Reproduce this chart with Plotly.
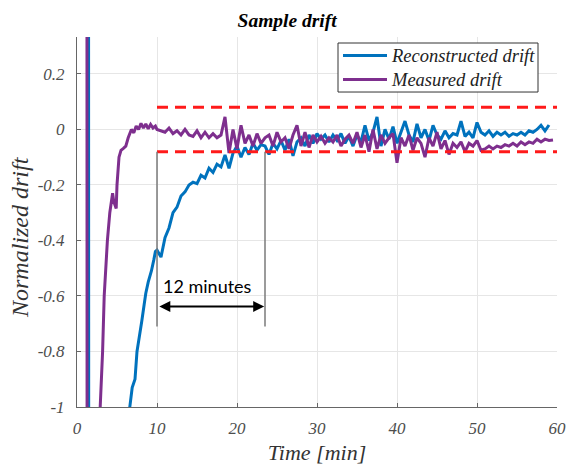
import plotly.graph_objects as go

# ---------------- data ----------------
recon_time_head = [1.4, 1.5, 6.4, 6.6, 6.9, 7.1, 7.25, 7.5, 7.8, 8.1, 8.4, 8.6, 8.9, 9.3, 9.6, 9.8]
recon_drift_head = [5.0, -5.0, -1.3, -1.0, -0.93, -0.91, -0.9, -0.8, -0.75, -0.69, -0.63, -0.59, -0.55, -0.51, -0.47, -0.44]

meas_time_head = [1.2, 1.3, 2.8, 2.9, 3.2, 3.4, 3.8, 4.1, 4.45, 4.6, 4.9, 5.0, 5.25, 5.5, 5.8, 6.1,
                  6.4, 6.8, 7.1, 7.4, 7.7, 8.0, 8.3, 8.6, 8.9, 9.2, 9.5, 9.8]
meas_drift_head = [5.0, -5.0, -1.3, -1.0, -0.8, -0.6, -0.4, -0.3, -0.23, -0.26, -0.285, -0.2, -0.1, -0.075,
                   -0.068, -0.06, -0.03, 0.0, -0.012, 0.012, 0.0, 0.022, 0.005, 0.02, 0.002, 0.018, 0.005, 0.012]

time_tail = [10.0, 10.5, 11.0, 11.5, 12.0, 12.5, 13.0, 13.5, 14.0, 14.5,
             15.0, 15.5, 16.0, 16.5, 17.0, 17.5, 18.0, 18.5, 19.0, 19.5,
             20.0, 20.5, 21.0, 21.5, 22.0, 22.5, 23.0, 23.5, 24.0, 24.5,
             25.0, 25.5, 26.0, 26.5, 27.0, 27.5, 28.0, 28.5, 29.0, 29.5,
             30.0, 30.5, 31.0, 31.5, 32.0, 32.5, 33.0, 33.5, 34.0, 34.5,
             35.0, 35.5, 36.0, 36.5, 37.0, 37.5, 38.0, 38.5, 39.0, 39.5,
             40.0, 40.5, 41.0, 41.5, 42.0, 42.5, 43.0, 43.5, 44.0, 44.5,
             45.0, 45.5, 46.0, 46.5, 47.0, 47.5, 48.0, 48.5, 49.0, 49.5,
             50.0, 50.5, 51.0, 51.5, 52.0, 52.5, 53.0, 53.5, 54.0, 54.5,
             55.0, 55.5, 56.0, 56.5, 57.0, 57.5, 58.0, 58.5, 59.0, 59.5]

recon_drift_tail = [-0.435, -0.46, -0.39, -0.355, -0.30, -0.28, -0.24, -0.225, -0.20, -0.19,
                    -0.195, -0.165, -0.175, -0.14, -0.155, -0.125, -0.135, -0.092, -0.14, -0.085,
                    -0.06, -0.10, -0.065, -0.09, -0.05, -0.075, -0.055, -0.06, -0.09, -0.05,
                    -0.07, -0.04, -0.075, -0.035, -0.095, -0.045, -0.03, -0.06, -0.02, -0.05,
                    -0.015, -0.035, -0.02, -0.045, -0.02, -0.04, -0.015, -0.05, -0.025, -0.06,
                    -0.02, -0.045, 0.015, -0.04, -0.01, 0.045, -0.06, 0.0, -0.035, 0.01,
                    -0.05, -0.01, 0.03, -0.02, -0.045, 0.02, -0.03, 0.0, -0.04, 0.015,
                    -0.02, -0.035, -0.005, -0.03, -0.015, -0.02, 0.03, -0.025, -0.01, -0.03,
                    0.025, -0.01, -0.02, -0.005, -0.025, -0.01, -0.02, -0.01, -0.025, -0.015,
                    -0.02, -0.01, -0.02, -0.005, -0.01, 0.0, 0.015, -0.005, 0.016, None]

meas_drift_tail = [0.0, -0.005, -0.01, 0.005, -0.015, -0.005, -0.02, 0.0, -0.02, -0.025,
                   -0.005, -0.03, -0.01, -0.03, -0.015, -0.03, -0.02, 0.045, -0.085, 0.0,
                   -0.07, 0.015, -0.05, -0.02, -0.06, -0.015, -0.05, -0.03, -0.02, -0.06,
                   -0.01, -0.045, -0.03, -0.07, -0.02, 0.015, -0.06, -0.01, -0.065, -0.02,
                   -0.045, -0.025, -0.05, -0.03, -0.045, -0.02, -0.06, -0.035, -0.02, -0.05,
                   -0.01, -0.065, -0.02, -0.08, 0.0, -0.07, -0.02, -0.05, -0.03, -0.015,
                   -0.12, -0.03, -0.06, -0.02, -0.075, -0.03, -0.05, -0.1, -0.03, -0.06,
                   -0.01, -0.07, -0.04, -0.09, -0.05, -0.065, -0.045, -0.08, -0.05, -0.06,
                   -0.04, -0.075, -0.07, -0.06, -0.07, -0.06, -0.065, -0.055, -0.06, -0.05,
                   -0.06, -0.045, -0.055, -0.045, -0.05, -0.035, -0.045, -0.035, -0.04, -0.038]

series_names = ["Reconstructed drift", "Measured drift"]

tolerance_band = [0.08, -0.08]
band_time = [10.0, 60.0]
interval_start = 10.0
interval_end = 23.5
marker_low = -0.08
marker_high = -0.71
arrow_level = -0.638
interval_label = "12 minutes"

x_ticks = [0, 10, 20, 30, 40, 50, 60]
x_tick_labels = ["0", "10", "20", "30", "40", "50", "60"]
y_ticks = [-1.0, -0.8, -0.6, -0.4, -0.2, 0.0, 0.2]
y_tick_labels = ["-1", "-0.8", "-0.6", "-0.4", "-0.2", "0", "0.2"]

# ---------------- figure ----------------
BLUE = "#0072BD"
PURPLE = "#7E2F8E"
COLORS = [BLUE, PURPLE]
SERIF = "Liberation Serif"


def it(s):
    return "<i>" + s + "</i>"


fig = go.Figure()

fig.add_trace(go.Scatter(
    x=recon_time_head + time_tail, y=recon_drift_head + recon_drift_tail,
    mode="lines", name=series_names[0],
    line=dict(color=BLUE, width=3), connectgaps=False))
fig.add_trace(go.Scatter(
    x=meas_time_head + time_tail, y=meas_drift_head + meas_drift_tail,
    mode="lines", name=series_names[1],
    line=dict(color=PURPLE, width=3)))

for level in tolerance_band:
    fig.add_trace(go.Scatter(
        x=band_time, y=[level, level], mode="lines", showlegend=False,
        hoverinfo="skip", line=dict(color="#FF1A1A", width=3, dash="11px,7px")))

for t in (interval_start, interval_end):
    fig.add_trace(go.Scatter(
        x=[t, t], y=[marker_low, marker_high], mode="lines", showlegend=False,
        hoverinfo="skip", line=dict(color="#7a7a7a", width=1.5)))

fig.add_annotation(
    x=interval_end - 0.1, y=arrow_level, ax=interval_start + 0.1, ay=arrow_level,
    xref="x", yref="y", axref="x", ayref="y", text="", showarrow=True,
    arrowside="end+start", arrowhead=2, arrowsize=1.1, arrowwidth=2,
    arrowcolor="black", standoff=0, startstandoff=0)

fig.add_annotation(
    x=(interval_start + interval_end) / 2 - 0.45, y=-0.565, xref="x", yref="y",
    text=interval_label, showarrow=False,
    font=dict(family="Lato", size=18, color="black"))

# y-axis title placed as rotated annotation (centred a little below plot middle)
fig.add_annotation(
    x=-0.119, y=0.459, xref="paper", yref="paper", xanchor="center", yanchor="middle",
    text=it("Normalized drift"), textangle=-90, showarrow=False,
    font=dict(family=SERIF, size=24, color="#333333"))

# legend box drawn in paper coordinates
W, H, L, B = 480.0, 369.8, 77.0, 406.8


def px(xp):
    return (xp - L) / W


def py(yp):
    return (B - yp) / H


fig.add_shape(type="rect", xref="paper", yref="paper",
              x0=px(338), x1=px(538), y0=py(92), y1=py(43),
              line=dict(color="#333333", width=1), fillcolor="white", layer="above")
for name, color, row_y in zip(series_names, COLORS, [55.5, 79.5]):
    fig.add_shape(type="line", xref="paper", yref="paper",
                  x0=px(343), x1=px(387), y0=py(row_y), y1=py(row_y),
                  line=dict(color=color, width=3), layer="above")
    fig.add_annotation(x=px(389), y=py(row_y), xref="paper", yref="paper",
                       xanchor="left", yanchor="middle", showarrow=False,
                       text=it(name), font=dict(family=SERIF, size=18.5, color="#222222"))

axis_font = dict(family=SERIF, size=17, color="#4d4d4d")

fig.update_layout(
    template="none",
    font=dict(family=SERIF),
    width=572, height=470,
    margin=dict(l=77, r=15, t=37, b=63, autoexpand=False),
    paper_bgcolor="white", plot_bgcolor="white",
    showlegend=False,
    title=dict(text="<b><i>Sample drift</i></b>", x=0.502, xref="container", xanchor="center",
               y=1 - 20 / 470, yref="container", yanchor="middle",
               font=dict(family=SERIF, size=19.5, color="black")),
    xaxis=dict(range=[0, 60], tickvals=x_ticks, ticktext=[it(s) for s in x_tick_labels],
               showgrid=True, gridcolor="#e6e6e6",
               gridwidth=1, zeroline=False, showline=True, linecolor="#666666",
               linewidth=1, ticks="inside", ticklen=4, tickcolor="#666666",
               tickfont=axis_font, ticklabelstandoff=6, automargin=False,
               title=dict(text=it("Time [min]"), standoff=7,
                          font=dict(family=SERIF, size=22, color="#333333"))),
    yaxis=dict(range=[-1, 0.333], tickvals=y_ticks, ticktext=[it(s) for s in y_tick_labels],
               showgrid=True, gridcolor="#e6e6e6", gridwidth=1, zeroline=False,
               showline=True, linecolor="#666666", linewidth=1, ticks="inside",
               ticklen=4, tickcolor="#666666", tickfont=axis_font, ticklabelstandoff=8,
               automargin=False),
)

fig.write_html("out.html", config={"displayModeBar": False},
               post_script="document.body.style.margin='0px';")
